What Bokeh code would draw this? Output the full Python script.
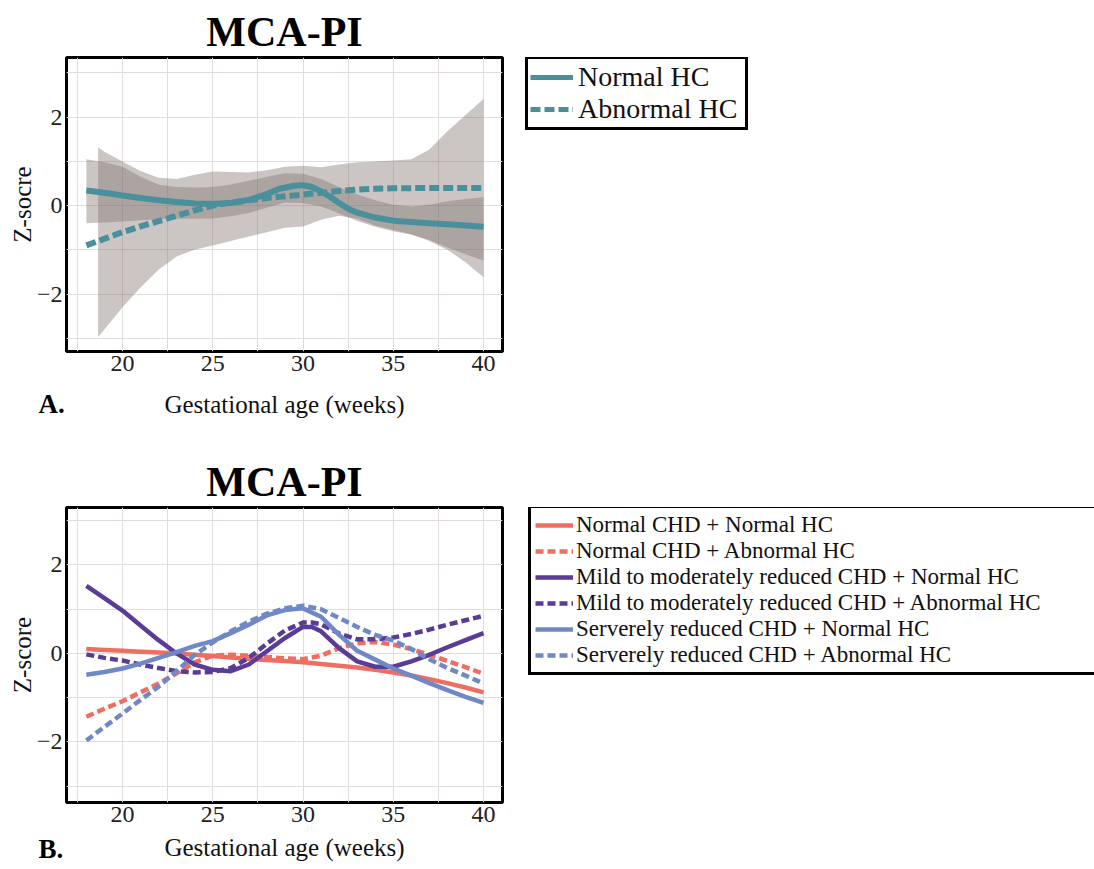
from bokeh.plotting import figure
from bokeh.layouts import column, row
from bokeh.models import Legend, LegendItem, FixedTicker, Range1d, Title, Spacer
from bokeh.embed import file_html
from bokeh.resources import INLINE

SERIF = "Liberation Serif"
NAN = float("nan")

# ---------------- Panel A data ----------------
a_title = "MCA-PI"
a_ylabel = "Z-socre"
xlabel = "Gestational age (weeks)"

a_normal_weeks = [18, 19, 20, 21, 22, 23, 24, 25, 26, 27, 28, 28.7, 29.5, 30, 30.5, 31, 31.5, 32,
                  32.5, 33, 34, 35, 36, 37, 38, 39, 40]
a_normal_z = [0.34, 0.29, 0.23, 0.17, 0.12, 0.08, 0.05, 0.04, 0.06, 0.13, 0.26, 0.38, 0.45, 0.46,
              0.42, 0.32, 0.20, 0.06, -0.07, -0.16, -0.27, -0.34, -0.37, -0.40, -0.42, -0.45, -0.48]

a_abn_weeks = [18, 19, 20, 21, 22, 23, 24, 25, 26, 27, 28, 29, 30, 31, 32, 33, 34, 35, 37, 40]
a_abn_z = [-0.90, -0.75, -0.60, -0.47, -0.35, -0.23, -0.11, 0.0, 0.07, 0.12, 0.17, 0.21, 0.25,
           0.29, 0.33, 0.36, 0.38, 0.39, 0.40, 0.40]

a_normal_band_weeks = [18, 19, 20, 21, 22, 23, 24, 25, 26, 27, 28, 29, 30, 31, 32, 33, 34, 35,
                       36, 37, 38, 39, 40]
a_normal_hi = [1.05, 0.98, 0.88, 0.65, 0.47, 0.42, 0.41, 0.42, 0.48, 0.56, 0.65, 0.73, 0.72, 0.60,
               0.42, 0.25, 0.12, 0.02, -0.02, 0.02, 0.10, 0.15, 0.19]
a_normal_lo = [-0.40, -0.38, -0.36, -0.33, -0.31, -0.30, -0.30, -0.29, -0.24, -0.17, -0.05, 0.07,
               0.06, -0.02, -0.18, -0.35, -0.48, -0.58, -0.66, -0.78, -0.95, -1.10, -1.24]

a_abn_band_weeks = [18.65, 19, 20, 21, 22, 23, 24, 25, 26, 27, 28, 29, 30, 31, 32, 33, 34, 35,
                    36, 37, 38, 39, 40]
a_abn_hi = [1.32, 1.22, 1.00, 0.78, 0.63, 0.60, 0.70, 0.77, 0.76, 0.75, 0.80, 0.88, 0.90, 0.87,
            0.93, 0.98, 1.00, 1.02, 1.05, 1.27, 1.68, 2.05, 2.41]
a_abn_lo = [-2.97, -2.80, -2.30, -1.85, -1.45, -1.15, -1.00, -0.90, -0.80, -0.70, -0.60, -0.50,
            -0.47, -0.32, -0.23, -0.30, -0.45, -0.55, -0.65, -0.80, -1.00, -1.28, -1.62]

a_labels = ["Normal HC", "Abnormal HC"]

# ---------------- Panel B data ----------------
b_title = "MCA-PI"
b_ylabel = "Z-score"
b_weeks = [18, 19, 20, 21, 22, 23, 24, 25, 26, 27, 28, 29, 30, 31, 32, 33, 34, 35, 36, 37, 38, 39, 40]
b_nchd_nhc = [0.10, 0.08, 0.06, 0.04, 0.02, 0.0, -0.03, -0.06, -0.09, -0.12, -0.15, -0.17, -0.20,
              -0.24, -0.28, -0.32, -0.37, -0.43, -0.50, -0.58, -0.67, -0.77, -0.88]
b_nchd_ahc = [-1.43, -1.25, -1.08, -0.88, -0.68, -0.45, -0.20, -0.05, -0.03, -0.05, -0.08, -0.11,
              -0.13, -0.05, 0.12, 0.23, 0.26, 0.20, 0.10, -0.03, -0.17, -0.31, -0.46]
b_mild_weeks = [18, 19, 20, 21, 22, 23, 24, 25, 26, 27, 28, 29, 30, 30.5, 31, 32, 33, 34, 35, 36,
                37, 38, 39, 40]
b_mild_nhc = [1.53, 1.25, 0.97, 0.63, 0.30, 0.0, -0.25, -0.37, -0.40, -0.25, 0.05, 0.35, 0.60,
              0.60, 0.50, 0.12, -0.18, -0.30, -0.30, -0.18, -0.03, 0.14, 0.30, 0.46]
b_mild_ahc = [-0.02, -0.10, -0.16, -0.25, -0.33, -0.40, -0.43, -0.42, -0.33, -0.10, 0.22, 0.52,
              0.70, 0.70, 0.66, 0.45, 0.32, 0.32, 0.36, 0.44, 0.54, 0.65, 0.75, 0.85]
b_sev_nhc = [-0.48, -0.42, -0.34, -0.23, -0.10, 0.03, 0.17, 0.28, 0.46, 0.65, 0.86, 0.98, 1.02,
             0.83, 0.42, 0.06, -0.14, -0.34, -0.50, -0.67, -0.83, -0.98, -1.12]
b_sev_ahc = [-1.97, -1.66, -1.36, -1.05, -0.75, -0.40, -0.03, 0.25, 0.50, 0.72, 0.90, 1.02, 1.08,
             1.00, 0.80, 0.60, 0.42, 0.29, 0.10, -0.13, -0.33, -0.50, -0.68]

b_labels = ["Normal CHD + Normal HC", "Normal CHD + Abnormal HC",
            "Mild to moderately reduced CHD + Normal HC",
            "Mild to moderately reduced CHD + Abnormal HC",
            "Serverely reduced CHD + Normal HC", "Serverely reduced CHD + Abnormal HC"]

x_ticks = [20, 25, 30, 35, 40]
x_minor = [17.5, 22.5, 27.5, 32.5, 37.5]
y_ticks = [-2, 0, 2]
y_minor = [-3, -1, 1, 3]

TEAL = "#4a8f9c"
SALMON = "#ef6e62"
PURPLE = "#5a3c96"
BLUE = "#7088c6"
BAND = "#7d706c"
GRID = "#e4dcdc"

PAD_W = 5
PLOT_W = 499
LEG_W = 590


def base_fig(height, top, bottom, y_lo, y_hi, title, ylabel, label_standoff, panel_tag,
             tag_standoff):
    p = figure(width=PLOT_W, height=height, output_backend="svg", toolbar_location=None,
               x_range=Range1d(16.9, 41.05), y_range=Range1d(y_lo, y_hi),
               min_border_left=0, min_border_right=2, min_border_top=top,
               min_border_bottom=bottom, title=title)
    p.title.text_font = SERIF
    p.title.text_font_size = "42px"
    p.title.text_font_style = "bold"
    p.title.align = "center"
    p.title.standoff = 6
    p.title.text_color = "black"
    p.background_fill_color = "white"
    p.border_fill_color = "white"
    p.outline_line_color = "black"
    p.outline_line_width = 3
    p.xaxis.ticker = FixedTicker(ticks=x_ticks, minor_ticks=x_minor)
    p.yaxis.ticker = FixedTicker(ticks=y_ticks, minor_ticks=y_minor)
    p.yaxis.major_label_overrides = {-2: "\u22122", 0: "0", 2: "2"}
    for ax in (p.xaxis, p.yaxis):
        ax.axis_line_color = None
        ax.major_tick_line_color = None
        ax.minor_tick_line_color = None
        ax.major_tick_out = 0
        ax.major_tick_in = 0
        ax.major_label_text_font = SERIF
        ax.major_label_text_font_size = "24px"
        ax.major_label_text_color = "#222222"
        ax.axis_label_text_font = SERIF
        ax.axis_label_text_font_size = "25px"
        ax.axis_label_text_font_style = "normal"
        ax.axis_label_text_color = "#111111"
    p.xaxis.axis_label = xlabel
    p.yaxis.axis_label = ylabel
    p.xaxis.major_label_standoff = 0
    p.yaxis.major_label_standoff = 0
    p.xaxis.axis_label_standoff = label_standoff
    p.yaxis.axis_label_standoff = -2
    for g in (p.xgrid, p.ygrid):
        g.grid_line_color = GRID
        g.grid_line_width = 1
        g.minor_grid_line_color = GRID
        g.minor_grid_line_width = 1
    tag = Title(text=panel_tag, align="left", offset=-28, vertical_align="top",
                standoff=tag_standoff, text_font=SERIF, text_font_size="27px",
                text_font_style="bold", text_color="black")
    p.add_layout(tag, "below")
    return p


def legend_fig(height):
    q = figure(width=LEG_W, height=height, output_backend="svg", toolbar_location=None,
               x_range=Range1d(0, 1), y_range=Range1d(0, 1), min_border=0)
    q.axis.visible = False
    q.grid.visible = False
    q.outline_line_color = None
    q.background_fill_color = "white"
    q.border_fill_color = "white"
    return q


# ---------------- Figure A ----------------
pa = base_fig(436, 57, 85, -3.3, 3.35, a_title, a_ylabel, 17, "A.", -64)
pa.varea(x=a_abn_band_weeks, y1=a_abn_lo, y2=a_abn_hi, fill_color=BAND, fill_alpha=0.4)
pa.varea(x=a_normal_band_weeks, y1=a_normal_lo, y2=a_normal_hi, fill_color=BAND, fill_alpha=0.4)
pa.line(a_normal_weeks, a_normal_z, line_color=TEAL, line_width=6)
pa.line(a_abn_weeks, a_abn_z, line_color=TEAL, line_width=6, line_dash="10 4")

# legend keys: styled like the panel's lines, no data points of their own
la = legend_fig(436)
ka1 = la.line(x=[NAN], y=[NAN], line_color=TEAL, line_width=5)
ka2 = la.line(x=[NAN], y=[NAN], line_color=TEAL, line_width=5, line_dash="10 4")
leg_a = Legend(items=[LegendItem(label=a_labels[0], renderers=[ka1]),
                      LegendItem(label=a_labels[1], renderers=[ka2])],
               location=(21, 221), label_text_font=SERIF, label_text_font_size="28px",
               label_text_color="#111111",
               label_height=28, glyph_height=28, glyph_width=43, label_standoff=5,
               label_width=165, padding=2, spacing=0, margin=0,
               border_line_color="black", border_line_width=3, border_line_alpha=1.0,
               background_fill_color="white", background_fill_alpha=1.0)
la.add_layout(leg_a)

# ---------------- Figure B ----------------
pb = base_fig(433, 71, 67, -3.37, 3.3, b_title, b_ylabel, 9, "B.", -60)
series = [
    (b_weeks, b_nchd_nhc, SALMON, "solid"),
    (b_weeks, b_nchd_ahc, SALMON, "dashed"),
    (b_mild_weeks, b_mild_nhc, PURPLE, "solid"),
    (b_mild_weeks, b_mild_ahc, PURPLE, "dashed"),
    (b_weeks, b_sev_nhc, BLUE, "solid"),
    (b_weeks, b_sev_ahc, BLUE, "dashed"),
]
lb = legend_fig(433)
items = []
for (xs, ys, col, dash), lab in zip(series, b_labels):
    dash_style = "solid" if dash == "solid" else "8 4"
    pb.line(xs, ys, line_color=col, line_width=4.5, line_dash=dash_style)
    k = lb.line(x=[NAN], y=[NAN], line_color=col, line_width=4.5, line_dash=dash_style)
    items.append(LegendItem(label=lab, renderers=[k]))

leg_b = Legend(items=items, location=(24, 127), label_text_font=SERIF,
               label_text_font_size="23px", label_text_color="#111111",
               label_height=24, glyph_height=24, glyph_width=38,
               label_standoff=3, label_width=530, padding=4, spacing=0, margin=0,
               border_line_color="black", border_line_width=3, border_line_alpha=1.0,
               background_fill_color="white", background_fill_alpha=1.0)
lb.add_layout(leg_b)

layout = column(row(Spacer(width=PAD_W, height=436), pa, la, spacing=0),
                row(Spacer(width=PAD_W, height=433), pb, lb, spacing=0), spacing=0)
open("out.html", "w").write(file_html(layout, INLINE))
